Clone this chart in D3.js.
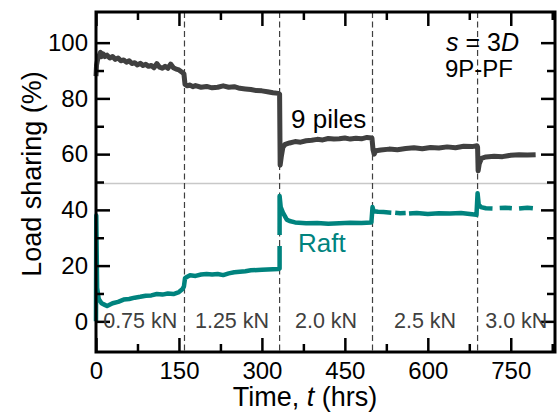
<!DOCTYPE html>
<html><head><meta charset="utf-8">
<script src="https://cdn.jsdelivr.net/npm/d3@7"></script>
<style>
body{margin:0;background:#fff;}
svg{display:block;font-family:"Liberation Sans",Arial,Helvetica,sans-serif;}
</style></head>
<body><svg id="c" width="558" height="418"></svg>
<script>
// ---- data ----
const pilesT = [0,1,3,5,8,10,13,16,20,25,30,35,40,45,50,55,60,65,70,75,80,85,90,95,100,105,110,115,120,125,130,135,140,145,150,155,159,
  161,165,170,175,180,190,200,210,220,230,240,250,260,270,280,290,300,310,320,330,
  332,333,335,338,342,350,360,370,380,390,400,410,420,430,440,450,460,470,480,490,499,
  501,503,506,515,530,545,560,575,590,605,620,635,650,665,680,689,
  690,691,693,697,705,720,735,750,765,780,795];
const pilesV = [88,92,94,95,96.5,95,96,95,95.5,94.5,95,94,94.5,93.5,93.8,93,93.5,92.5,92.8,92,92.6,91.8,92.2,91.5,91.8,91,92.5,91.2,90.8,91.5,90.8,92.3,91,90.5,90.2,89.5,88.8,
  85,84.5,84.8,84.2,84.6,84,84.3,83.8,84,84.5,84,84.2,83.6,83.4,83.2,82.8,82.7,82.4,82,81.8,
  81.5,56,59,62.5,63.5,64,64.5,64.3,64.8,65,65.3,65.1,65.6,65.4,65.5,65.8,65.4,65.7,65.5,66,65.8,
  61.5,60,61.2,61.5,61.8,61.6,62,62.3,61.9,62.4,62.2,62.6,62.3,62.8,62.7,63,
  62.5,54,56.5,58.5,59,59.2,59.1,59.6,59.8,59.7,59.8];
// raft: null marks a gap in the record
const raftT = [0,0.5,2,5,10,15,20,30,40,50,60,70,80,90,100,110,120,130,140,150,156,159,
  161,165,170,180,190,200,210,220,230,240,250,260,270,280,300,320,330,
  332,332,332,332,332,334,338,345,350,360,380,400,420,440,460,480,498,
  500,502,510,520,534,535,541,550,560,561,566,580,600,620,640,660,680,688,
  690,692,696,705,717,718,730,740,752,753,765,780,790];
const raftV = [0,38,12,8,6.5,6,5.5,6.5,7,7.8,8,8.5,8.8,9.2,9.3,9.8,9.6,10,9.8,10.5,11.5,12.5,
  15.5,16,16.5,16.3,16.8,17,16.8,17,16.6,17.2,17.6,17.8,18,18.3,18.5,18.7,18.8,
  19,27,null,31,45,41,39,36.5,36,35.5,35.2,35.3,35,35.2,35.4,35.3,35.5,
  41,39.5,39.3,39.2,39,null,39,38.8,38.9,null,38.7,38.9,38.5,38.8,38.7,38.9,38.4,38.2,
  46,42,41,40.6,40.5,null,40.7,40.8,40.6,null,40.5,40.8,40.6];
const loadSteps = [0,160,332,500,690];
const loadLabels = ["0.75 kN","1.25 kN","2.0 kN","2.5 kN","3.0 kN"];
const xTicks = [0,150,300,450,600,750];
const yTicks = [0,20,40,60,80,100];
const refLine = 49.5;

// ---- chart ----
const svg = d3.select("#c");
const L=96,R=555,T=12,B=352;
const x = d3.scaleLinear().domain([0,830]).range([L,R]);
const y = d3.scaleLinear().domain([-11,111]).range([B,T]);
const ink="#000", dark="#404040", teal="#00837e";

// reference line
svg.append("line").attr("x1",L).attr("x2",R).attr("y1",y(refLine)).attr("y2",y(refLine))
  .attr("stroke","#c8c8c8").attr("stroke-width",1.5);

// dashed load-step lines
svg.selectAll("line.step").data(loadSteps.slice(1)).join("line").attr("class","step")
  .attr("x1",d=>x(d)).attr("x2",d=>x(d)).attr("y1",T).attr("y2",B)
  .attr("stroke",dark).attr("stroke-width",1.2).attr("stroke-dasharray","6,3.5");

// series
const piles = pilesT.map((t,i)=>({t,v:pilesV[i]}));
const raft = raftT.map((t,i)=>({t,v:raftV[i]}));
const line = d3.line().defined(d=>d.v!=null).x(d=>x(d.t)).y(d=>y(d.v));
svg.append("path").datum(piles).attr("d",line).attr("fill","none")
  .attr("stroke",dark).attr("stroke-width",5).attr("stroke-linejoin","round");
svg.append("path").datum(raft).attr("d",line).attr("fill","none")
  .attr("stroke",teal).attr("stroke-width",4.5).attr("stroke-linejoin","round");

// axes
function style(g){g.select(".domain").remove();g.selectAll("line").attr("stroke",ink).attr("stroke-width",2.5);}
const xMinor = d3.range(75,830,150);
const yMinor = d3.range(10,100,20);
svg.append("g").attr("transform",`translate(0,${B})`)
  .call(d3.axisBottom(x).tickValues(xTicks).tickSize(-14).tickPadding(10).tickFormat(d3.format("d")))
  .call(style).call(g=>g.selectAll("text").attr("font-size",24).attr("fill",ink).attr("font-family",null));
svg.append("g").attr("transform",`translate(0,${B})`)
  .call(d3.axisBottom(x).tickValues(xMinor).tickSize(-8).tickFormat("")).call(style);
svg.append("g").attr("transform",`translate(0,${T})`)
  .call(d3.axisTop(x).tickValues(xTicks).tickSize(-14).tickFormat("")).call(style);
svg.append("g").attr("transform",`translate(0,${T})`)
  .call(d3.axisTop(x).tickValues(xMinor).tickSize(-8).tickFormat("")).call(style);
svg.append("g").attr("transform",`translate(${L},0)`)
  .call(d3.axisLeft(y).tickValues(yTicks).tickSize(-14).tickPadding(8))
  .call(style).call(g=>g.selectAll("text").attr("font-size",24).attr("fill",ink).attr("font-family",null));
svg.append("g").attr("transform",`translate(${L},0)`)
  .call(d3.axisLeft(y).tickValues(yMinor).tickSize(-8).tickFormat("")).call(style);
svg.append("g").attr("transform",`translate(${R},0)`)
  .call(d3.axisRight(y).tickValues(yTicks).tickSize(-14).tickFormat("")).call(style);
svg.append("g").attr("transform",`translate(${R},0)`)
  .call(d3.axisRight(y).tickValues(yMinor).tickSize(-8).tickFormat("")).call(style);

// frame
svg.append("rect").attr("x",L).attr("y",T).attr("width",R-L).attr("height",B-T)
  .attr("fill","none").attr("stroke",ink).attr("stroke-width",3);

// load labels
const bounds = loadSteps.concat([x.domain()[1]]);
svg.selectAll("text.load").data(loadLabels).join("text").attr("class","load")
  .attr("x",(d,i)=>x((bounds[i]+bounds[i+1])/2)).attr("y",328)
  .attr("text-anchor","middle").attr("font-size",21.5).attr("fill",dark).text(d=>d);

// annotations
svg.append("text").attr("x",291).attr("y",128).attr("font-size",26).attr("fill",ink).text("9 piles");
svg.append("text").attr("x",298).attr("y",252).attr("font-size",26).attr("fill",teal).text("Raft");
const s3d = svg.append("text").attr("x",446).attr("y",51).attr("font-size",25).attr("fill",ink);
s3d.append("tspan").attr("font-style","italic").text("s");
s3d.append("tspan").text(" = 3");
s3d.append("tspan").attr("font-style","italic").text("D");
svg.append("text").attr("x",445).attr("y",77).attr("font-size",24).attr("fill",ink).text("9P-PF");

// axis titles
const xt = svg.append("text").attr("x",305).attr("y",406).attr("text-anchor","middle").attr("font-size",27).attr("fill",ink);
xt.append("tspan").text("Time, ");
xt.append("tspan").attr("font-style","italic").text("t");
xt.append("tspan").text(" (hrs)");
svg.append("text").attr("transform","translate(41,174) rotate(-90)").attr("text-anchor","middle")
  .attr("font-size",27).attr("fill",ink).text("Load sharing (%)");
</script></body></html>
